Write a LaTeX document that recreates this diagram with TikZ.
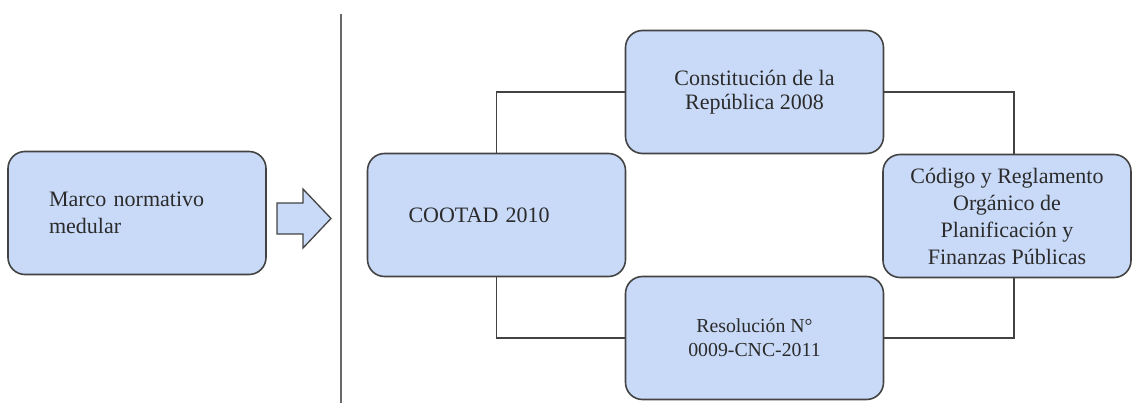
\documentclass[tikz,border=0pt]{standalone}
\usepackage{fontspec}
\setmainfont{Liberation Serif}
\definecolor{boxfill}{HTML}{C9DAF8}
\definecolor{boxline}{HTML}{434343}
\definecolor{boxtext}{HTML}{2B2B2B}
\tikzset{
  x=1pt, y=-1pt,
  rbox/.style={draw=boxline, fill=boxfill, line width=1.6pt, rounded corners=17pt,
    minimum width=258pt, minimum height=123pt, inner sep=0pt, text=boxtext,
    font=\fontsize{22}{27}\selectfont},
  conn/.style={draw=boxline, line width=1.3pt},
}
\begin{document}
\begin{tikzpicture}
\useasboundingbox (0,0) rectangle (1132,403);
% left box
\node[rbox, text width=176pt, align=left] (marco) at (137,213) {Marco normativo\\medular};
% block arrow
\draw[draw=boxline, fill=boxfill, line width=1.3pt, line join=miter]
  (277,203) -- (303,203) -- (303,189) -- (331,218.5) -- (303,248) -- (303,234) -- (277,234) -- cycle;
% divider
\draw[line width=1.2pt, draw=boxline!80] (341,14) -- (341,403);
% boxes
\node[rbox, text width=176pt, align=left] (cootad) at (496.5,215) {COOTAD 2010};
\node[rbox, align=center, font=\fontsize{22}{24}\selectfont] (const) at (754.5,92) {Constitución de la\\República 2008};
\node[rbox, align=center, minimum width=248pt] (cod) at (1007,216) {Código y Reglamento\\Orgánico de\\Planificación y\\Finanzas Públicas};
\node[rbox, align=center, font=\fontsize{19.8}{24}\selectfont] (res) at (754.5,338) {Resolución N°\\0009-CNC-2011};
% connectors
\draw[conn] (const.west) -| (cootad.north);
\draw[conn] (const.east) -| ([xshift=7pt]cod.north);
\draw[conn] ([xshift=7pt]cod.south) |- (res.east);
\draw[conn] (res.west) -| (cootad.south);
\end{tikzpicture}
\end{document}
